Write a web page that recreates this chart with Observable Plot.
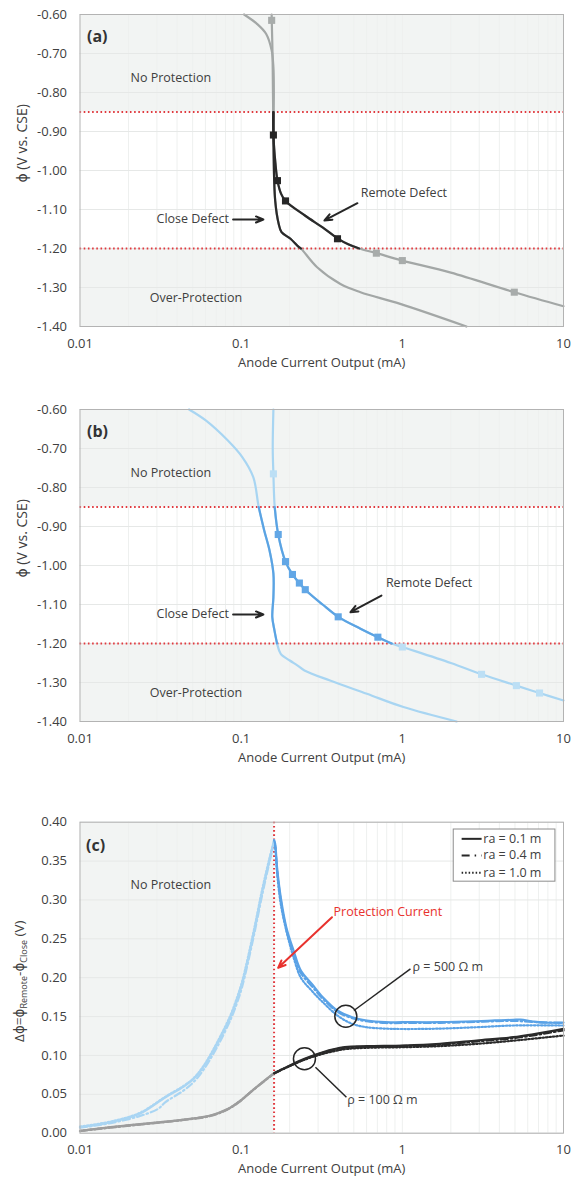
<!DOCTYPE html>
<html><head><meta charset="utf-8">
<script src="https://cdn.jsdelivr.net/npm/d3@7"></script>
<script src="https://cdn.jsdelivr.net/npm/@observablehq/plot@0.6"></script>
<style>
body{margin:0;background:#fff;}
#chart{width:573px;}
#chart svg{display:block;}
</style></head><body><div id="chart"></div>
<script>
// ---------- data ----------
const xTickValues = [0.01, 0.1, 1, 10];
const xGridValues = [0.02,0.03,0.04,0.05,0.06,0.07,0.08,0.09,0.1,0.2,0.3,0.4,0.5,0.6,0.7,0.8,0.9,1,2,3,4,5,6,7,8,9];
const phiTicks = [-0.6,-0.7,-0.8,-0.9,-1.0,-1.1,-1.2,-1.3,-1.4];
const phiLimits = [-0.85, -1.2];
const phiBands = [[-0.6,-0.85],[-1.2,-1.4]];
const dphiTicks = [0,0.05,0.1,0.15,0.2,0.25,0.3,0.35,0.4];
const protectionCurrent = 0.16;

// panel (a): [current mA, potential V]
const aRemote = [[0.1546,-0.600],[0.1548,-0.615],[0.1565,-0.70],[0.1575,-0.80],[0.158,-0.85],[0.1585,-0.909],[0.163,-0.98],[0.168,-1.026],[0.177,-1.06],[0.1884,-1.078],[0.25,-1.116],[0.32,-1.146],[0.396,-1.174],[0.465,-1.19],[0.54,-1.20],[0.69,-1.212],[1.0,-1.231],[2.0,-1.262],[4.95,-1.312],[10,-1.348]];
const aRemoteMarkers = [[0.1546,-0.615],[0.1585,-0.909],[0.168,-1.026],[0.1884,-1.078],[0.396,-1.175],[0.69,-1.212],[1.0,-1.231],[4.95,-1.312]];
const aClose = [[0.1042,-0.600],[0.1253,-0.624],[0.143,-0.650],[0.1546,-0.692],[0.1585,-0.735],[0.1595,-0.80],[0.159,-0.85],[0.159,-0.949],[0.1626,-1.077],[0.171,-1.137],[0.178,-1.158],[0.2024,-1.175],[0.2275,-1.196],[0.235,-1.20],[0.296,-1.248],[0.413,-1.291],[0.55,-1.312],[0.97,-1.342],[2.5,-1.40]];

// panel (b)
const bRemote = [[0.1585,-0.600],[0.157,-0.70],[0.1585,-0.765],[0.1615,-0.85],[0.1698,-0.9205],[0.1884,-0.99],[0.208,-1.023],[0.2297,-1.045],[0.2499,-1.062],[0.32,-1.10],[0.400,-1.1316],[0.55,-1.162],[0.705,-1.1838],[0.86,-1.20],[1.0,-1.209],[2.0,-1.25],[3.1,-1.279],[5.1,-1.308],[7.1,-1.327],[10,-1.346]];
const bRemoteMarkers = [[0.1585,-0.765],[0.1698,-0.9205],[0.1884,-0.99],[0.208,-1.023],[0.2297,-1.045],[0.2499,-1.062],[0.400,-1.1316],[0.705,-1.1838],[1.0,-1.209],[3.1,-1.279],[5.1,-1.308],[7.1,-1.327]];
const bClose = [[0.0475,-0.600],[0.0603,-0.628],[0.0824,-0.679],[0.1016,-0.722],[0.1189,-0.7735],[0.1285,-0.85],[0.139,-0.910],[0.150,-0.9615],[0.1585,-1.021],[0.1585,-1.081],[0.156,-1.132],[0.161,-1.167],[0.167,-1.20],[0.176,-1.2265],[0.2003,-1.2436],[0.223,-1.256],[0.247,-1.269],[0.356,-1.295],[0.6026,-1.329],[1.016,-1.363],[2.17,-1.40]];

// panel (c): [current mA, delta phi V]
const c500_r01 = [[0.01,0.0077],[0.0155,0.0141],[0.0234,0.0249],[0.0339,0.0463],[0.044,0.060],[0.0508,0.070],[0.0586,0.086],[0.071,0.115],[0.0859,0.150],[0.0944,0.172],[0.1016,0.193],[0.119,0.255],[0.1355,0.312],[0.150,0.352],[0.16,0.377],[0.1626,0.372],[0.167,0.342],[0.176,0.3035],[0.1905,0.265],[0.2114,0.235],[0.2346,0.2092],[0.2746,0.192],[0.321,0.175],[0.396,0.1578],[0.489,0.1492],[0.6026,0.145],[0.782,0.1428],[1,0.1428],[1.71,0.1428],[2.89,0.144],[3.76,0.145],[4.88,0.1458],[5.42,0.1462],[6.34,0.144],[7.41,0.1423],[10,0.1423]];
const c500_r04 = [[0.01,0.0072],[0.0155,0.013],[0.0234,0.022],[0.0305,0.0313],[0.0339,0.040],[0.044,0.055],[0.0508,0.066],[0.0586,0.082],[0.071,0.111],[0.0859,0.146],[0.0944,0.168],[0.1016,0.189],[0.119,0.251],[0.1355,0.308],[0.150,0.349],[0.16,0.374],[0.1626,0.369],[0.167,0.339],[0.176,0.300],[0.1905,0.262],[0.2114,0.231],[0.2346,0.206],[0.2746,0.189],[0.321,0.173],[0.396,0.156],[0.489,0.148],[0.6026,0.144],[0.782,0.1418],[1,0.1418],[1.71,0.142],[2.89,0.1432],[3.76,0.144],[4.88,0.1445],[6.34,0.1432],[10,0.1418]];
const c500_r10 = [[0.01,0.0085],[0.0155,0.015],[0.0234,0.026],[0.0339,0.047],[0.044,0.061],[0.0508,0.071],[0.0586,0.087],[0.071,0.117],[0.0859,0.152],[0.0944,0.175],[0.1016,0.196],[0.119,0.258],[0.1355,0.315],[0.150,0.354],[0.16,0.376],[0.1626,0.368],[0.167,0.335],[0.176,0.295],[0.1905,0.2607],[0.2114,0.226],[0.2346,0.2],[0.2746,0.183],[0.321,0.1685],[0.396,0.1513],[0.489,0.1406],[0.6026,0.1363],[0.782,0.1345],[1,0.134],[1.71,0.1345],[2.89,0.1363],[4.88,0.1385],[10,0.1385]];
const c100_r01 = [[0.01,0.0026],[0.0154,0.0077],[0.0196,0.010],[0.0316,0.0142],[0.044,0.0175],[0.0646,0.0228],[0.0824,0.031],[0.099,0.042],[0.1128,0.052],[0.1318,0.0636],[0.16,0.0772],[0.1905,0.0849],[0.247,0.0956],[0.321,0.1042],[0.4396,0.1106],[0.6026,0.1119],[1.016,0.1127],[1.71,0.1149],[2.89,0.1192],[4.88,0.1235],[6.34,0.1269],[10,0.1342]];
const c100_r04 = [[0.01,0.0028],[0.0154,0.007],[0.0196,0.0094],[0.0316,0.0136],[0.044,0.017],[0.0646,0.0222],[0.0824,0.0305],[0.099,0.0414],[0.1128,0.0515],[0.1318,0.063],[0.16,0.0768],[0.1905,0.0843],[0.247,0.0948],[0.321,0.1036],[0.4396,0.110],[0.6026,0.1113],[1.016,0.1122],[1.71,0.114],[2.89,0.118],[4.88,0.1222],[10,0.1322]];
const c100_r10 = [[0.01,0.003],[0.0154,0.0075],[0.0196,0.0098],[0.0316,0.014],[0.044,0.0173],[0.0646,0.0226],[0.0824,0.0308],[0.099,0.0418],[0.1128,0.0518],[0.1318,0.0633],[0.16,0.0772],[0.1905,0.0845],[0.247,0.0945],[0.321,0.102],[0.4396,0.108],[0.6026,0.1098],[1.016,0.1106],[1.71,0.112],[2.89,0.1149],[4.88,0.119],[10,0.1256]];
const legendLabels = ["ra = 0.1 m", "ra = 0.4 m", "ra = 1.0 m"];

// annotations (data coordinates)
const abNotes = [
  {x: 0.0366, y: -0.763, t: "No Protection"},
  {x: 0.0501, y: -1.1256, t: "Close Defect"},
  {x: 0.0524, y: -1.3274, t: "Over-Protection"}
];
const aRemoteNote = {x: 1.023, y: -1.058, t: "Remote Defect"};
const bRemoteNote = {x: 1.465, y: -1.0454, t: "Remote Defect"};
const aArrows = [{x1: 0.0891, y1: -1.1256, x2: 0.1374, y2: -1.1256}, {x1: 0.5265, y1: -1.0838, x2: 0.3286, y2: -1.128}];
const bArrows = [{x1: 0.0891, y1: -1.1256, x2: 0.1374, y2: -1.1256}, {x1: 0.742, y1: -1.077, x2: 0.4766, y2: -1.1197}];

// ---------- style ----------
const W = 573, ML = 79.5, MR = 10;
const FONT = "'Open Sans', 'DejaVu Sans', sans-serif";
const TXT = "#404040", BG = "#f2f4f3", GRID = "#e6e8e7", VGRID = "#eef0ef", RED = "#e0393e", FRAME = "#b3b3b3";
const X = d => d[0], Y = d => d[1];
const fmtX = d => String(d);

function phiPanel(cfg) {
  const inBand = d => d[1] <= -0.85 + 1e-9 && d[1] >= -1.2 - 1e-9;
  const lineOpts = (stroke) => ({x: X, y: Y, stroke, strokeWidth: 2.2, curve: "catmull-rom"});
  return Plot.plot({
    width: W, height: cfg.height, marginTop: cfg.top, marginBottom: cfg.bottom, marginLeft: ML, marginRight: MR,
    style: {fontFamily: FONT, fontSize: "13px", color: TXT, background: "white", overflow: "visible"},
    x: {type: "log", domain: [0.01, 10], ticks: xTickValues, tickFormat: fmtX, tickSize: 0, tickPadding: 12, label: null},
    y: {domain: [-1.4, -0.6], ticks: phiTicks, tickFormat: d => d.toFixed(2), tickSize: 0, tickPadding: 13, label: null},
    marks: [
      Plot.rect(phiBands, {x1: 0.01, x2: 10, y1: d => d[0], y2: d => d[1], fill: BG}),
      Plot.ruleX(xGridValues, {stroke: VGRID, strokeWidth: 1}),
      Plot.ruleY(phiTicks, {stroke: GRID, strokeWidth: 1}),
      Plot.ruleY(phiLimits, {stroke: RED, strokeWidth: 2, strokeDasharray: "1.6,2.6"}),
      Plot.line(cfg.close, lineOpts(cfg.light)),
      Plot.line(cfg.remote, lineOpts(cfg.light)),
      Plot.line(cfg.close.filter(inBand), lineOpts(cfg.dark)),
      Plot.line(cfg.remote.filter(inBand), lineOpts(cfg.dark)),
      Plot.dot(cfg.markers.filter(d => !inBand(d)), {x: X, y: Y, symbol: "square", r: 4, fill: cfg.mLight}),
      Plot.dot(cfg.markers.filter(inBand), {x: X, y: Y, symbol: "square", r: 4, fill: cfg.mDark}),
      Plot.frame({stroke: FRAME}),
      Plot.text(abNotes.concat([cfg.remoteNote]), {x: "x", y: "y", text: "t", fill: TXT, fontSize: 12.5}),
      Plot.arrow(cfg.arrows, {x1: "x1", y1: "y1", x2: "x2", y2: "y2", stroke: "#262626", strokeWidth: 2, headLength: 6, headAngle: 45}),
      Plot.text([cfg.tag], {frameAnchor: "top-left", dx: 7, dy: 16, text: d => d, fontSize: 16, fontWeight: "bold", fill: "#333", textAnchor: "start"}),
      Plot.text(["Anode Current Output (mA)"], {frameAnchor: "bottom", dy: 40, text: d => d, fontSize: 13, fill: TXT}),
      Plot.text(["ϕ (V vs. CSE)"], {frameAnchor: "left", dx: -57.5, dy: 12, rotate: -90, text: d => d, fontSize: 14, fill: TXT})
    ]
  });
}

const panelA = phiPanel({height: 390, top: 14, bottom: 64, close: aClose, remote: aRemote, markers: aRemoteMarkers,
  light: "#a3a7a6", dark: "#2a2a2a", mLight: "#a8acab", mDark: "#262626", remoteNote: aRemoteNote, arrows: aArrows, tag: "(a)"});
const panelB = phiPanel({height: 390, top: 19, bottom: 59, close: bClose, remote: bRemote, markers: bRemoteMarkers,
  light: "#a8d5f2", dark: "#5ba3e3", mLight: "#bcdff5", mDark: "#62a7e6", remoteNote: bRemoteNote, arrows: bArrows, tag: "(b)"});

// ---------- panel (c) ----------
const cTop = 41.7, cBottom = 51.3, cH = 404;
const cSeries = [
  {data: c500_r10, dash: "1.5,2", light: "#a9d5f3", dark: "#5aa2e6"},
  {data: c500_r04, dash: "7,3,1.5,3", light: "#a9d5f3", dark: "#5aa2e6"},
  {data: c500_r01, dash: null, light: "#a9d5f3", dark: "#5aa2e6"},
  {data: c100_r10, dash: "1.5,2", light: "#9d9d9d", dark: "#2a2a2a"},
  {data: c100_r04, dash: "7,3,1.5,3", light: "#9d9d9d", dark: "#2a2a2a"},
  {data: c100_r01, dash: null, light: "#9d9d9d", dark: "#2a2a2a"}
];
const cLines = cSeries.flatMap(s => [
  Plot.line(s.data.filter(d => d[0] <= protectionCurrent), {x: X, y: Y, stroke: s.light, strokeWidth: 2.2, strokeDasharray: s.dash || undefined, curve: "catmull-rom"}),
  Plot.line(s.data.filter(d => d[0] >= protectionCurrent), {x: X, y: Y, stroke: s.dark, strokeWidth: 2.2, strokeDasharray: s.dash || undefined, curve: "catmull-rom"})
]);
const legendRows = [0.3786, 0.3572, 0.3349];
const legendDashes = [undefined, "8,5,1.5,5", "1.5,2"];
const legendMarks = [
  Plot.rect([0], {x1: 2.084, x2: 8.91, y1: 0.3235, y2: 0.3906, fill: "white", stroke: "#8c8c8c", strokeWidth: 1})
].concat(legendLabels.flatMap((lab, i) => [
  Plot.ruleY([legendRows[i]], {x1: 2.35, x2: 3.126, stroke: "#262626", strokeWidth: 2, strokeDasharray: legendDashes[i]}),
  Plot.text([lab], {x: 3.18, y: legendRows[i], text: d => d, textAnchor: "start", fill: TXT, fontSize: 12.5})
]));

const panelC = Plot.plot({
  width: W, height: cH, marginTop: cTop, marginBottom: cBottom, marginLeft: ML, marginRight: MR,
  style: {fontFamily: FONT, fontSize: "13px", color: TXT, background: "white", overflow: "visible"},
  x: {type: "log", domain: [0.01, 10], ticks: xTickValues, tickFormat: fmtX, tickSize: 0, tickPadding: 12, label: null},
  y: {domain: [0, 0.4], ticks: dphiTicks, tickFormat: d => d.toFixed(2), tickSize: 0, tickPadding: 13, label: null},
  marks: [
    Plot.rect([0], {x1: 0.01, x2: protectionCurrent, y1: 0, y2: 0.4, fill: BG}),
    Plot.ruleX(xGridValues, {stroke: VGRID, strokeWidth: 1}),
    Plot.ruleY(dphiTicks, {stroke: GRID, strokeWidth: 1}),
    Plot.ruleX([protectionCurrent], {stroke: RED, strokeWidth: 2, strokeDasharray: "1.6,2.6"}),
    ...cLines,
    Plot.frame({stroke: FRAME}),
    Plot.text(["No Protection"], {x: 0.0366, y: 0.3186, text: d => d, fill: TXT, fontSize: 12.5}),
    Plot.text(["Protection Current"], {x: 0.813, y: 0.2842, text: d => d, fill: "#e8322e", fontSize: 12.5}),
    Plot.arrow([{x1: 0.366, y1: 0.2778, x2: 0.1696, y2: 0.2127}], {x1: "x1", y1: "y1", x2: "x2", y2: "y2", stroke: "#e8322e", strokeWidth: 2, headLength: 6, headAngle: 45}),
    Plot.dot([[0.446, 0.1505], [0.247, 0.0957]], {x: X, y: Y, r: 11, stroke: "#262626", strokeWidth: 1.5, fill: "none"}),
    Plot.link([{x1: 0.501, y1: 0.1578, x2: 1.123, y2: 0.2114}, {x1: 0.289, y1: 0.0849, x2: 0.45, y2: 0.0463}], {x1: "x1", y1: "y1", x2: "x2", y2: "y2", stroke: "#262626", strokeWidth: 1.5}),
    Plot.text(["ρ = 500 Ω m"], {x: 1.915, y: 0.2135, text: d => d, fill: TXT, fontSize: 12.5}),
    Plot.text(["ρ = 100 Ω m"], {x: 0.753, y: 0.043, text: d => d, fill: TXT, fontSize: 12.5}),
    ...legendMarks,
    Plot.text(["(c)"], {frameAnchor: "top-left", dx: 6, dy: 17, text: d => d, fontSize: 16, fontWeight: "bold", fill: "#333", textAnchor: "start"}),
    Plot.text(["Anode Current Output (mA)"], {frameAnchor: "bottom", dy: 40, text: d => d, fontSize: 13, fill: TXT})
  ]
});

// y-axis title with subscripts for panel (c)
const yt = d3.select(panelC).append("text")
  .attr("transform", `translate(24,${cTop + (cH - cTop - cBottom) / 2 + 4}) rotate(-90)`)
  .attr("text-anchor", "middle").attr("fill", TXT)
  .style("font-family", FONT).style("font-size", "13.5px");
yt.append("tspan").text("Δϕ=ϕ");
yt.append("tspan").attr("font-size", "9px").attr("dy", 3).text("Remote");
yt.append("tspan").attr("dy", -3).text("-ϕ");
yt.append("tspan").attr("font-size", "9px").attr("dy", 3).text("Close");
yt.append("tspan").attr("dy", -3).text(" (V)");

const root = document.getElementById("chart");
root.append(panelA, panelB, panelC);
</script></body></html>
